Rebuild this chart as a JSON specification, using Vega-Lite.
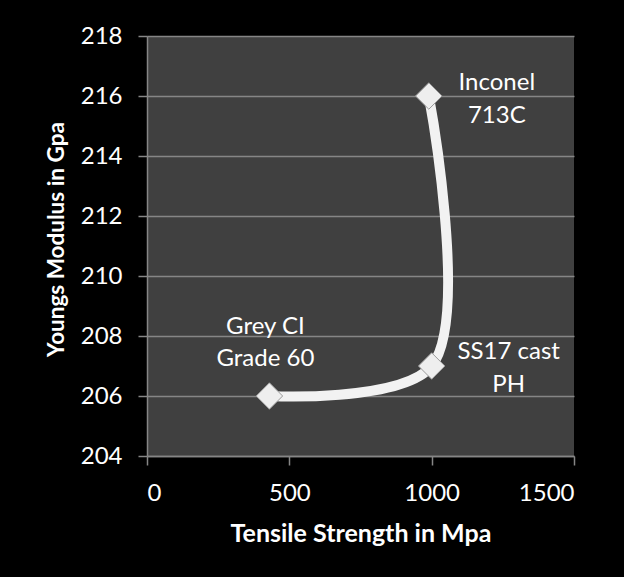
{
  "$schema": "https://vega.github.io/schema/vega-lite/v6.json",
  "width": 427,
  "height": 420,
  "autosize": "none",
  "padding": {"left": 147, "top": 36, "right": 50, "bottom": 121},
  "background": "#000000",
  "config": {
    "view": {"fill": "#404040", "stroke": null},
    "font": "Lato",
    "axis": {
      "labelFont": "Lato",
      "titleFont": "Lato",
      "labelColor": "#ffffff",
      "titleColor": "#ffffff",
      "labelFontSize": 24,
      "titleFontSize": 25,
      "titleFontWeight": "bold",
      "domainColor": "#868686",
      "domainWidth": 1.5,
      "tickColor": "#868686",
      "tickWidth": 1.5,
      "tickSize": 9,
      "gridColor": "#868686",
      "gridWidth": 1.5
    }
  },
  "data": {
    "values": [
      {"material": "Grey CI", "label": "Grey CI\nGrade 60", "tensile": 430, "modulus": 206, "ord": 1},
      {"material": "SS17 cast PH", "label": "SS17 cast\nPH", "tensile": 1000, "modulus": 207, "ord": 2},
      {"material": "Inconel 713C", "label": "Inconel\n713C", "tensile": 990, "modulus": 216, "ord": 3}
    ]
  },
  "encoding": {
    "x": {
      "field": "tensile",
      "type": "quantitative",
      "scale": {"domain": [0, 1500], "nice": false, "zero": false},
      "axis": {
        "title": "Tensile Strength in Mpa",
        "values": [0, 500, 1000, 1500],
        "format": "d",
        "grid": false,
        "labelBaseline": "alphabetic",
        "labelPadding": 35,
        "titleBaseline": "alphabetic",
        "titleY": 85,
        "titleX": 213.5,
        "titleAlign": "center"
      }
    },
    "y": {
      "field": "modulus",
      "type": "quantitative",
      "scale": {"domain": [204, 218], "nice": false, "zero": false},
      "axis": {
        "title": "Youngs Modulus in Gpa",
        "values": [204, 206, 208, 210, 212, 214, 216, 218],
        "grid": true,
        "labelPadding": 16,
        "titleFontSize": 22.5,
        "titleX": -84,
        "titleY": 203,
        "titleBaseline": "alphabetic",
        "titleAlign": "center"
      }
    }
  },
  "layer": [
    {
      "mark": {"type": "line", "interpolate": "catmull-rom", "stroke": "#f2f2f2", "strokeWidth": 10, "strokeCap": "round"},
      "encoding": {"order": {"field": "ord", "type": "quantitative"}}
    },
    {
      "mark": {"type": "point", "shape": "diamond", "filled": true, "size": 700, "fill": "#eeeeee", "stroke": "#9a9a9a", "strokeWidth": 1, "opacity": 1}
    },
    {
      "transform": [{"filter": "datum.ord == 1"}],
      "mark": {"type": "text", "lineBreak": "\n", "color": "#ffffff", "fontSize": 24, "font": "Lato", "align": "center", "baseline": "alphabetic", "lineHeight": 32, "dx": -4, "dy": -62},
      "encoding": {"text": {"field": "label"}}
    },
    {
      "transform": [{"filter": "datum.ord == 2"}],
      "mark": {"type": "text", "lineBreak": "\n", "color": "#ffffff", "fontSize": 24, "font": "Lato", "align": "center", "baseline": "alphabetic", "lineHeight": 33, "dx": 77, "dy": -7},
      "encoding": {"text": {"field": "label"}}
    },
    {
      "transform": [{"filter": "datum.ord == 3"}],
      "mark": {"type": "text", "lineBreak": "\n", "color": "#ffffff", "fontSize": 24, "font": "Lato", "align": "center", "baseline": "alphabetic", "lineHeight": 33, "dx": 68, "dy": -6},
      "encoding": {"text": {"field": "label"}}
    }
  ]
}
